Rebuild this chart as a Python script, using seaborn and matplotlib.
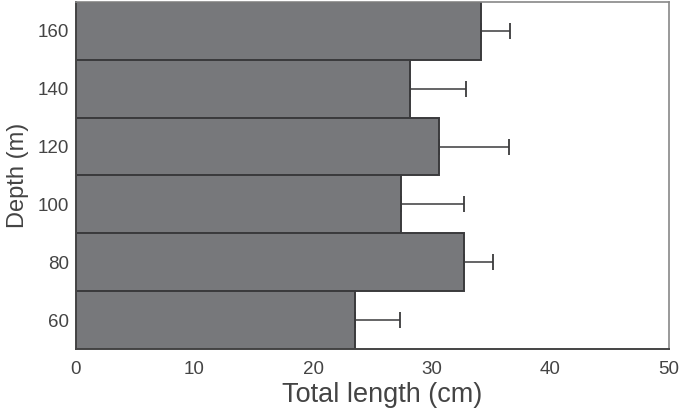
#!/usr/bin/env python3
# -*- coding: utf-8 -*-
"""Mean total length by depth, horizontal bars with one-sided error bars."""
import numpy as np
import pandas as pd
import matplotlib
matplotlib.use("Agg")
import matplotlib.pyplot as plt
import seaborn as sns

# Data
depths = [60, 80, 100, 120, 140, 160]
mean_length = [23.5, 32.7, 27.4, 30.6, 28.2, 34.2]
length_err = [3.8, 2.5, 5.3, 5.9, 4.7, 2.4]
x_ticks = [0, 10, 20, 30, 40, 50]


def main():
    sns.set_theme(style="white")
    plt.rcParams["font.family"] = ["Liberation Sans", "DejaVu Sans"]

    df = pd.DataFrame({"depth": [str(d) for d in depths],
                       "length": mean_length,
                       "err": length_err})
    order = [str(d) for d in depths[::-1]]

    fig = plt.figure(figsize=(6.81, 4.11), dpi=100)
    ax = fig.add_axes([0.1116, 0.151, 0.8704, 0.844])

    sns.barplot(data=df, x="length", y="depth", order=order, orient="h",
                color="#77787b", saturation=1, width=1.0, errorbar=None,
                edgecolor="#3a3a3c", linewidth=1.4, ax=ax)

    # one-sided error bars (right side only)
    ordered = df.set_index("depth").loc[order]
    ypos = np.arange(len(order))
    ax.errorbar(ordered["length"], ypos,
                xerr=[np.zeros(len(order)), ordered["err"]],
                fmt="none", ecolor="#3a3a3c", elinewidth=1.1,
                capsize=6, capthick=1.3, zorder=3)

    ax.set_xlim(0, 50)
    ax.set_ylim(len(order) - 0.5, -0.5)
    ax.set_xticks(x_ticks)
    ax.set_xticklabels([str(t) for t in x_ticks])

    ax.tick_params(axis="x", direction="in", length=5, width=1,
                   color="#555555", labelsize=13.5, labelcolor="#444444", pad=9)
    ax.tick_params(axis="y", length=0, labelsize=13.5, labelcolor="#444444", pad=5)

    ax.set_xlabel("Total length (cm)", fontsize=19.5, color="#444444", labelpad=4)
    ax.xaxis.set_label_coords(0.516, -0.095, transform=ax.transAxes)
    ax.xaxis.label.set_va("top")
    ax.set_ylabel("Depth (m)", fontsize=17, color="#444444", labelpad=6)

    for side in ["left", "bottom"]:
        ax.spines[side].set_color("#444444")
        ax.spines[side].set_linewidth(1.4)
    for side in ["top", "right"]:
        ax.spines[side].set_color("#888888")
        ax.spines[side].set_linewidth(1.2)

    fig.savefig("out.png", dpi=100)


if __name__ == "__main__":
    main()
